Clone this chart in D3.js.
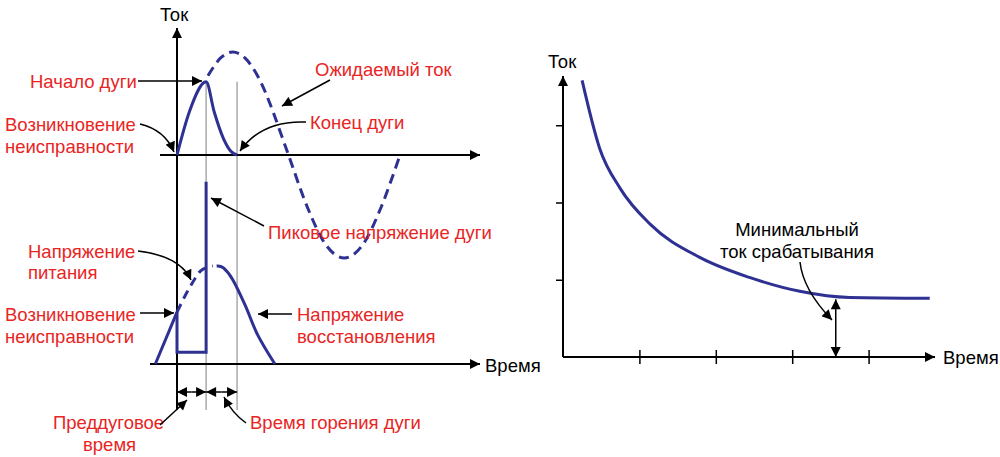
<!DOCTYPE html><html><head><meta charset="utf-8">
<script src="https://cdn.jsdelivr.net/npm/d3@7"></script>
<style>body{margin:0;background:#fff}text{font-family:"Liberation Sans",Arial,sans-serif;font-size:18.5px}</style>
</head><body><svg id="c" width="1000" height="457"></svg><script>
// ---- data ----
// left: time in degrees of supply cycle
const arcCurrent=[[0,0],[20,0.42],[47,0.71],[60,0.42],[75,0.16],[88,0.03],[97,0]];
const expectedCurrent=[[50,0.77],[70,0.94],[90,1],[110,0.94],[130,0.77],[150,0.5],[180,0],[210,-0.5],[240,-0.87],[270,-1],[300,-0.87],[330,-0.5],[360,0]];
const supplyVoltageDashed=[[0,0.53],[15,0.72],[30,0.88],[40,0.96],[58,1.0]];
const voltageBefore=[[-35,0],[0,0.53]];
const arcVoltage=[[0,0.53],[0,0.12],[47,0.12],[47,1.86]];
const recoveryVoltage=[[64,1.0],[75,0.98],[90,0.86],[110,0.6],[130,0.3],[158,0]];
const markTimes=[0,47,97];
// right: trip curve
const tripCurve=[[0.25,3.58],[0.48,2.70],[0.75,2.18],[1.14,1.72],[1.79,1.29],[2.44,1.03],[3.10,0.85],[3.75,0.77],[4.8,0.76]];
const xTicksR=[1,2,3,4], yTicksR=[1,2,3];
const minCurrent=0.76, minAt=3.57;
// ---- drawing ----
const svg=d3.select("#c");
const navy="#2e3192", red="#e8251f";
const defs=svg.append("defs");
defs.append("marker").attr("id","ar").attr("viewBox","0 0 10 10").attr("refX",10).attr("refY",5)
 .attr("markerWidth",12).attr("markerHeight",10).attr("markerUnits","userSpaceOnUse").attr("orient","auto-start-reverse")
 .append("path").attr("d","M0,0L10,5L0,10z").attr("fill","#000");
const xL=d3.scaleLinear().domain([0,360]).range([177,400]);
const yI=d3.scaleLinear().domain([0,1]).range([155,52]);
const yV=d3.scaleLinear().domain([0,1]).range([364,266]);
const lineI=d3.line().x(d=>xL(d[0])).y(d=>yI(d[1]));
const lineV=d3.line().x(d=>xL(d[0])).y(d=>yV(d[1]));
markTimes.slice(1).forEach(t=>svg.append("line").attr("x1",xL(t)).attr("x2",xL(t)).attr("y1",yI(0.71)).attr("y2",410).attr("stroke","#aaa").attr("stroke-width",1.5));
function arrowLine(x1,y1,x2,y2,w=1.5){return svg.append("line").attr("x1",x1).attr("y1",y1).attr("x2",x2).attr("y2",y2).attr("stroke","#000").attr("stroke-width",w).attr("marker-end","url(#ar)");}
arrowLine(177,410,177,28,2);
arrowLine(160,155,480,155,2);
arrowLine(150,364,480,364,2);
const xR=d3.scaleLinear().domain([0,5]).range([563,945]);
const yR=d3.scaleLinear().domain([0,4]).range([357,48]);
arrowLine(563,357,563,76,2);
arrowLine(563,357,935,357,2);
svg.append("g").attr("transform","translate(0,357)").call(d3.axisBottom(xR).tickValues(xTicksR).tickSize(0).tickFormat(""))
 .call(g=>{g.select(".domain").remove();g.selectAll(".tick line").attr("y1",-7).attr("y2",7).attr("stroke","#000").attr("stroke-width",1.5);});
svg.append("g").attr("transform","translate(563,0)").call(d3.axisLeft(yR).tickValues(yTicksR).tickSize(7).tickFormat(""))
 .call(g=>{g.select(".domain").remove();g.selectAll(".tick line").attr("stroke","#000").attr("stroke-width",1.5);});
const P=(d,l,dash)=>svg.append("path").attr("d",l(d)).attr("fill","none").attr("stroke",navy).attr("stroke-width",3).attr("stroke-dasharray",dash||null);
P(arcCurrent,lineI.curve(d3.curveMonotoneX));
P(expectedCurrent,d3.line().x(d=>xL(d[0])).y(d=>yI(d[1])).curve(d3.curveCardinal),"10,6");
P(voltageBefore,lineV);
P(supplyVoltageDashed,d3.line().x(d=>xL(d[0])).y(d=>yV(d[1])).curve(d3.curveCardinal),"9,6");
P(arcVoltage,d3.line().x(d=>xL(d[0])).y(d=>yV(d[1])));
P(recoveryVoltage,d3.line().x(d=>xL(d[0])).y(d=>yV(d[1])).curve(d3.curveCardinal));
P(tripCurve,d3.line().x(d=>xR(d[0])).y(d=>yR(d[1])).curve(d3.curveMonotoneX));
const mx=xR(minAt);
arrowLine(mx,330,mx,yR(minCurrent)+1);arrowLine(mx,330,mx,357);
const ty=392;
[[0,47],[47,97]].forEach(([a,b])=>{const m=(xL(a)+xL(b))/2;arrowLine(m,ty,xL(a),ty);arrowLine(m,ty,xL(b),ty);});
function T(x,y,s,c,anchor){svg.append("text").attr("x",x).attr("y",y).attr("fill",c||red).attr("text-anchor",anchor||"start").text(s);}
T(160,21,"Ток","#000");T(548,68,"Ток","#000");
T(485,372,"Время","#000");T(943,364,"Время","#000");
T(30,88,"Начало дуги");arrowLine(138,81,202,81);
T(5,131,"Возникновение");T(5,153,"неисправности");
const curveArrow=(d)=>svg.append("path").attr("d",d).attr("fill","none").attr("stroke","#000").attr("stroke-width",1.5).attr("marker-end","url(#ar)");
curveArrow("M140,124 Q165,130 174,152");
T(315,76,"Ожидаемый ток");arrowLine(330,80,282,106);
T(310,129,"Конец дуги");curveArrow("M306,122 Q262,120 240,151");
T(268,239,"Пиковое напряжение дуги");arrowLine(264,226,211,198);
T(28,258,"Напряжение");T(28,279,"питания");curveArrow("M138,251 Q180,256 191,280");
T(5,321,"Возникновение");T(5,343,"неисправности");arrowLine(140,313,174,313);
T(297,321,"Напряжение");T(297,343,"восстановления");arrowLine(292,314,258,314);
T(53,429,"Преддуговое");T(83,451,"время");arrowLine(160,425,187,400);
T(250,429,"Время горения дуги");curveArrow("M246,423 Q232,413 224,397");
T(797,236,"Минимальный","#000","middle");T(797,258,"ток срабатывания","#000","middle");
curveArrow("M800,262 Q803,290 832,320");
</script></body></html>
